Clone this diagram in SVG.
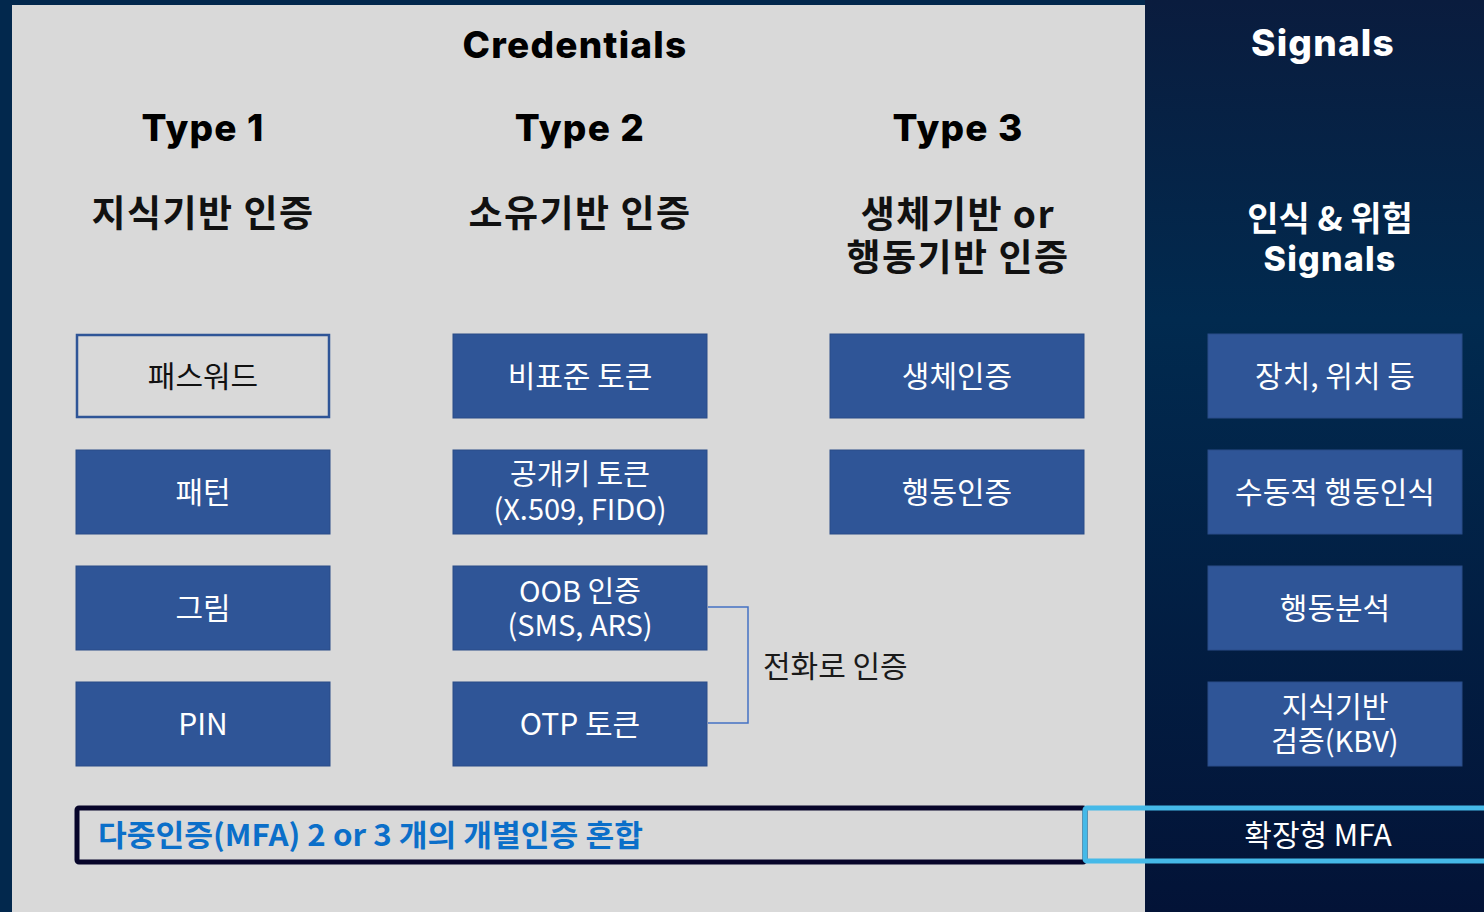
<svg xmlns="http://www.w3.org/2000/svg" width="1484" height="912" viewBox="0 0 1484 912">
<defs>
<linearGradient id="rg" x1="0" y1="0" x2="0" y2="1">
<stop offset="0" stop-color="#0a1c3e"/>
<stop offset="0.35" stop-color="#012a4f"/>
<stop offset="1" stop-color="#031337"/>
</linearGradient>
<style>
.box{fill:#2f5597;stroke:#2a4d88;stroke-width:1}
.bt{font-family:"Noto Sans CJK KR","Noto Sans",sans-serif;font-size:30px;fill:#ffffff;text-anchor:middle;dominant-baseline:central}
.b2{font-size:29px}
.hd{font-family:Inter,"Noto Sans",sans-serif;font-weight:800;font-size:37px;letter-spacing:1.2px;fill:#000;text-anchor:middle;dominant-baseline:central}
.kh{font-family:"Noto Sans CJK KR",sans-serif;font-weight:700;font-size:37px;letter-spacing:1.5px;fill:#111;text-anchor:middle;dominant-baseline:central}
</style>
</defs>
<rect x="0" y="0" width="1484" height="912" fill="#02284d"/>
<rect x="12" y="5" width="1133" height="907" fill="#d9d9d9"/>
<rect x="1145" y="0" width="339" height="912" fill="url(#rg)"/>

<g id="headers">
<text class="hd" x="575" y="44">Credentials</text>
<text class="hd" x="203" y="127">Type 1</text>
<text class="hd" x="580" y="127">Type 2</text>
<text class="hd" x="958" y="127">Type 3</text>
<text class="kh" x="203" y="211">지식기반 인증</text>
<text class="kh" x="580" y="211">소유기반 인증</text>
<text class="kh" x="958" y="212">생체기반 or</text>
<text class="kh" x="958" y="255">행동기반 인증</text>
<text class="hd" x="1323" y="42" style="fill:#fff">Signals</text>
<text class="kh" x="1330" y="216" style="fill:#fff;font-size:34px;letter-spacing:0">인식 &amp; 위험</text>
<text class="hd" x="1330" y="258" style="fill:#fff;font-size:34px">Signals</text>
</g>

<g id="connectors">
<polyline points="708,607 748,607 748,723 708,723" fill="none" stroke="#4472c4" stroke-width="1.5"/>
<text x="763" y="664" style="font-family:'Noto Sans CJK KR',sans-serif;font-size:30px;fill:#1a1a1a;dominant-baseline:central">전화로 인증</text>
</g>

<g id="n-password"><rect x="77" y="335" width="252" height="82" fill="none" stroke="#2f5597" stroke-width="2.5"/><text class="bt" x="203" y="374" style="fill:#111">패스워드</text></g>
<g id="n-pattern"><rect class="box" x="76" y="450" width="254" height="84"/><text class="bt" x="203" y="490">패턴</text></g>
<g id="n-picture"><rect class="box" x="76" y="566" width="254" height="84"/><text class="bt" x="203" y="606">그림</text></g>
<g id="n-pin"><rect class="box" x="76" y="682" width="254" height="84"/><text class="bt" x="203" y="722">PIN</text></g>

<g id="n-nonstd"><rect class="box" x="453" y="334" width="254" height="84"/><text class="bt" x="580" y="374">비표준 토큰</text></g>
<g id="n-pki"><rect class="box" x="453" y="450" width="254" height="84"/><text class="bt b2" x="580" y="472">공개키 토큰</text><text class="bt b2" x="580" y="507">(X.509, FIDO)</text></g>
<g id="n-oob"><rect class="box" x="453" y="566" width="254" height="84"/><text class="bt b2" x="580" y="589">OOB 인증</text><text class="bt b2" x="580" y="623">(SMS, ARS)</text></g>
<g id="n-otp"><rect class="box" x="453" y="682" width="254" height="84"/><text class="bt" x="580" y="722">OTP 토큰</text></g>

<g id="n-bio"><rect class="box" x="830" y="334" width="254" height="84"/><text class="bt" x="957" y="374">생체인증</text></g>
<g id="n-behav"><rect class="box" x="830" y="450" width="254" height="84"/><text class="bt" x="957" y="490">행동인증</text></g>

<g id="n-device"><rect class="box" x="1208" y="334" width="254" height="84"/><text class="bt" x="1335" y="374">장치, 위치 등</text></g>
<g id="n-passive"><rect class="box" x="1208" y="450" width="254" height="84"/><text class="bt" x="1335" y="490">수동적 행동인식</text></g>
<g id="n-analysis"><rect class="box" x="1208" y="566" width="254" height="84"/><text class="bt" x="1335" y="606">행동분석</text></g>
<g id="n-kbv"><rect class="box" x="1208" y="682" width="254" height="84"/><text class="bt b2" x="1335" y="705">지식기반</text><text class="bt b2" x="1335" y="739">검증(KBV)</text></g>

<g id="n-mfa">
<rect x="77" y="808" width="1008" height="54" rx="2" fill="none" stroke="#07052a" stroke-width="5"/>
<text x="98" y="833" textLength="545" lengthAdjust="spacingAndGlyphs" style="font-family:'Liberation Sans Narrow','Noto Sans CJK KR',sans-serif;font-weight:700;font-size:30px;fill:#0b6fc9;dominant-baseline:central">다중인증(MFA) 2 or 3 개의 개별인증 혼합</text>
</g>
<g id="n-xmfa">
<rect x="1085" y="808" width="410" height="53" rx="2" fill="none" stroke="#45b9e8" stroke-width="5"/>
<text class="bt" x="1318" y="833">확장형 MFA</text>
</g>
</svg>
